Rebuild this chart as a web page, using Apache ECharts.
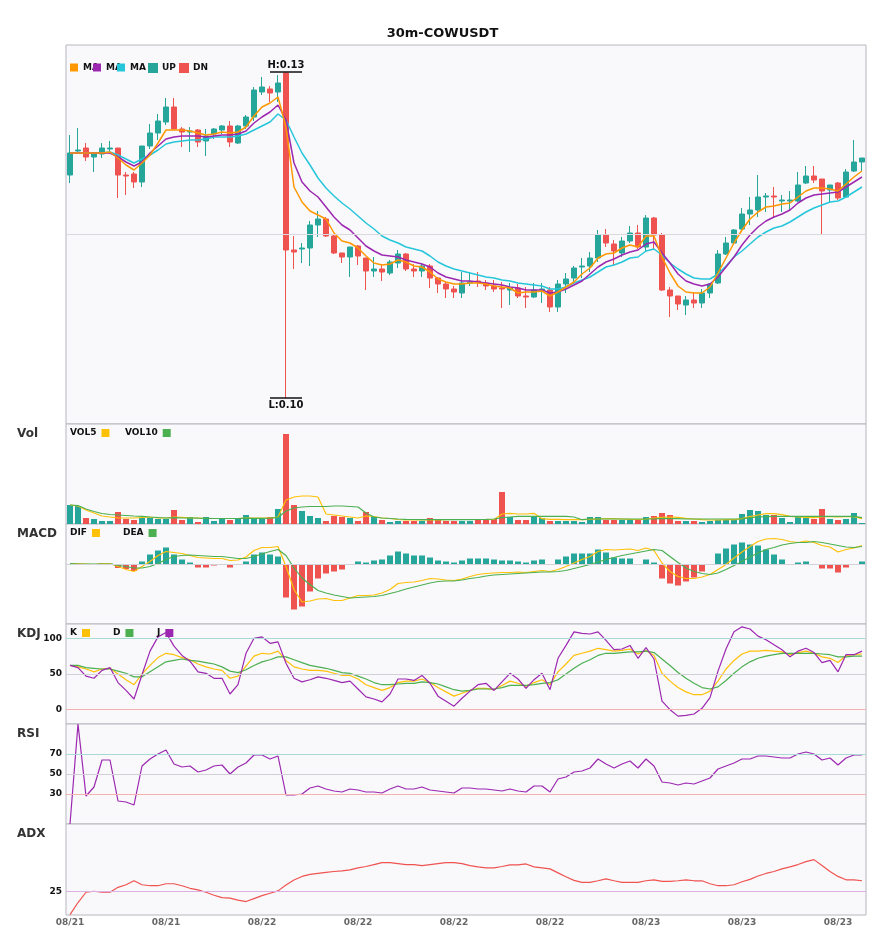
<!DOCTYPE html>
<html>
<head>
<meta charset="utf-8">
<script src="https://cdn.jsdelivr.net/npm/echarts@6/dist/echarts.min.js"></script>
<style>
  html, body { margin: 0; padding: 0; background: #fff; }
  #main { width: 885px; height: 950px; }
</style>
</head>
<body>
<div id="main"></div>
<script>
// 30m candles, [open, close, low, high]
const ohlc = [
  [0.1197,0.1219,0.1189,0.1237],[0.1221,0.1222,0.1219,0.1244],[0.1224,0.1215,0.1211,0.1229],[0.1215,0.1219,0.1200,0.1220],[0.1218,0.1224,0.1214,0.1229],
  [0.1223,0.1224,0.1219,0.1231],[0.1224,0.1197,0.1174,0.1224],[0.1197,0.1196,0.1177,0.1200],[0.1198,0.1190,0.1184,0.1200],[0.1190,0.1226,0.1185,0.1226],
  [0.1226,0.1239,0.1223,0.1248],[0.1239,0.1251,0.1232,0.1258],[0.1250,0.1265,0.1247,0.1274],[0.1265,0.1243,0.1243,0.1274],[0.1243,0.1240,0.1225,0.1245],
  [0.1240,0.1241,0.1220,0.1245],[0.1242,0.1230,0.1225,0.1243],[0.1231,0.1236,0.1216,0.1243],[0.1238,0.1243,0.1233,0.1244],[0.1242,0.1246,0.1238,0.1247],
  [0.1246,0.1230,0.1225,0.1251],[0.1229,0.1246,0.1228,0.1247],[0.1246,0.1255,0.1243,0.1257],[0.1255,0.1282,0.1251,0.1285],[0.1280,0.1285,0.1277,0.1295],
  [0.1283,0.1279,0.1270,0.1286],[0.1280,0.1289,0.1270,0.1297],[0.1299,0.1122,0.0974,0.1300],[0.1122,0.1120,0.1103,0.1136],[0.1123,0.1124,0.1109,0.1129],
  [0.1124,0.1147,0.1106,0.1151],[0.1147,0.1153,0.1135,0.1161],[0.1153,0.1136,0.1135,0.1155],[0.1136,0.1119,0.1118,0.1137],[0.1119,0.1115,0.1109,0.1119],
  [0.1115,0.1125,0.1095,0.1125],[0.1126,0.1116,0.1107,0.1127],[0.1114,0.1101,0.1082,0.1114],[0.1101,0.1103,0.1095,0.1115],[0.1103,0.1100,0.1091,0.1108],
  [0.1099,0.1110,0.1097,0.1112],[0.1109,0.1118,0.1104,0.1122],[0.1118,0.1103,0.1101,0.1119],[0.1103,0.1101,0.1095,0.1108],[0.1101,0.1106,0.1095,0.1109],
  [0.1106,0.1094,0.1084,0.1108],[0.1094,0.1088,0.1079,0.1095],[0.1088,0.1083,0.1074,0.1090],[0.1083,0.1080,0.1074,0.1086],[0.1079,0.1089,0.1074,0.1100],
  [0.1089,0.1090,0.1086,0.1100],[0.1091,0.1090,0.1085,0.1100],[0.1089,0.1086,0.1082,0.1092],[0.1086,0.1083,0.1080,0.1092],[0.1084,0.1083,0.1064,0.1090],
  [0.1082,0.1084,0.1067,0.1089],[0.1084,0.1076,0.1074,0.1088],[0.1076,0.1075,0.1064,0.1085],[0.1075,0.1082,0.1074,0.1089],[0.1082,0.1083,0.1069,0.1089],
  [0.1082,0.1065,0.1060,0.1085],[0.1065,0.1088,0.1060,0.1092],[0.1088,0.1093,0.1079,0.1099],[0.1094,0.1104,0.1088,0.1106],[0.1105,0.1106,0.1094,0.1114],
  [0.1106,0.1114,0.1100,0.1120],[0.1114,0.1137,0.1110,0.1142],[0.1137,0.1129,0.1125,0.1143],[0.1128,0.1121,0.1107,0.1132],[0.1119,0.1131,0.1115,0.1135],
  [0.1131,0.1139,0.1129,0.1146],[0.1139,0.1125,0.1123,0.1147],[0.1125,0.1154,0.1121,0.1157],[0.1154,0.1137,0.1123,0.1155],[0.1137,0.1082,0.1081,0.1139],
  [0.1082,0.1076,0.1055,0.1085],[0.1076,0.1068,0.1062,0.1076],[0.1067,0.1072,0.1057,0.1076],[0.1072,0.1069,0.1064,0.1080],[0.1069,0.1079,0.1064,0.1083],
  [0.1079,0.1088,0.1074,0.1089],[0.1089,0.1118,0.1088,0.1122],[0.1118,0.1129,0.1117,0.1135],[0.1129,0.1142,0.1128,0.1143],[0.1143,0.1158,0.1142,0.1164],
  [0.1158,0.1162,0.1147,0.1175],[0.1162,0.1175,0.1155,0.1197],[0.1175,0.1176,0.1160,0.1179],[0.1176,0.1175,0.1155,0.1185],[0.1171,0.1172,0.1160,0.1177],
  [0.1171,0.1172,0.1162,0.1181],[0.1171,0.1187,0.1170,0.1200],[0.1189,0.1196,0.1188,0.1206],[0.1196,0.1192,0.1189,0.1206],[0.1193,0.1181,0.1138,0.1193],
  [0.1182,0.1187,0.1169,0.1187],[0.1189,0.1174,0.1172,0.1190],[0.1175,0.1200,0.1174,0.1203],[0.1201,0.1210,0.1200,0.1232],[0.1210,0.1214,0.1200,0.1214]
]

const ma5 = [
  0.1219,0.1219,0.1219,0.1219,0.1219,0.1220,0.1214,0.1207,0.1202,0.1209,
  0.1217,0.1229,0.1242,0.1242,0.1242,0.1241,0.1239,0.1237,0.1238,0.1240,
  0.1239,0.1240,0.1245,0.1256,0.1265,0.1269,0.1275,0.1245,0.1185,0.1170,
  0.1161,0.1157,0.1153,0.1139,0.1131,0.1129,0.1124,0.1116,0.1109,0.1107,
  0.1108,0.1112,0.1110,0.1106,0.1105,0.1100,0.1093,0.1090,0.1088,0.1088,
  0.1089,0.1089,0.1088,0.1086,0.1085,0.1084,0.1079,0.1080,0.1080,0.1081,
  0.1076,0.1080,0.1085,0.1090,0.1098,0.1104,0.1114,0.1118,0.1119,0.1124,
  0.1127,0.1125,0.1136,0.1136,0.1115,0.1099,0.1086,0.1080,0.1079,0.1079,
  0.1085,0.1099,0.1114,0.1129,0.1142,0.1153,0.1160,0.1165,0.1166,0.1168,
  0.1169,0.1175,0.1181,0.1184,0.1184,0.1183,0.1181,0.1188,0.1195,0.1201
]
const ma10 = [
  0.1219,0.1219,0.1219,0.1219,0.1219,0.1219,0.1215,0.1210,0.1206,0.1210,
  0.1219,0.1226,0.1233,0.1235,0.1236,0.1236,0.1236,0.1235,0.1236,0.1237,
  0.1237,0.1238,0.1241,0.1249,0.1255,0.1260,0.1267,0.1252,0.1209,0.1190,
  0.1181,0.1175,0.1165,0.1155,0.1147,0.1142,0.1134,0.1126,0.1121,0.1117,
  0.1116,0.1115,0.1112,0.1110,0.1108,0.1105,0.1099,0.1095,0.1093,0.1091,
  0.1091,0.1090,0.1089,0.1088,0.1087,0.1085,0.1084,0.1082,0.1082,0.1082,
  0.1079,0.1080,0.1083,0.1087,0.1091,0.1098,0.1105,0.1110,0.1113,0.1117,
  0.1120,0.1122,0.1128,0.1130,0.1119,0.1109,0.1098,0.1091,0.1088,0.1086,
  0.1088,0.1095,0.1105,0.1115,0.1127,0.1137,0.1145,0.1151,0.1155,0.1158,
  0.1162,0.1169,0.1174,0.1177,0.1178,0.1179,0.1180,0.1185,0.1190,0.1195
]
const ma20 = [
  0.1219,0.1219,0.1219,0.1219,0.1219,0.1220,0.1217,0.1213,0.1209,0.1213,
  0.1217,0.1222,0.1228,0.1230,0.1231,0.1232,0.1232,0.1233,0.1235,0.1235,
  0.1235,0.1236,0.1238,0.1242,0.1246,0.1250,0.1258,0.1252,0.1235,0.1219,
  0.1207,0.1194,0.1184,0.1176,0.1169,0.1163,0.1156,0.1149,0.1143,0.1136,
  0.1132,0.1129,0.1125,0.1123,0.1121,0.1116,0.1110,0.1106,0.1103,0.1101,
  0.1099,0.1097,0.1095,0.1094,0.1092,0.1091,0.1089,0.1088,0.1087,0.1086,
  0.1083,0.1083,0.1085,0.1089,0.1092,0.1095,0.1100,0.1105,0.1107,0.1110,
  0.1114,0.1115,0.1121,0.1123,0.1117,0.1109,0.1103,0.1098,0.1094,0.1093,
  0.1093,0.1098,0.1106,0.1115,0.1121,0.1128,0.1135,0.1140,0.1144,0.1146,
  0.1150,0.1155,0.1160,0.1164,0.1167,0.1170,0.1171,0.1175,0.1180,0.1185
]

const vol = [
  190,180,60,50,30,30,120,50,40,60, 60,50,50,140,40,70,20,70,30,50,
  40,50,90,50,50,70,150,900,190,130, 80,60,30,80,70,60,30,120,70,40,
  20,30,30,30,30,60,40,30,30,30, 30,50,40,50,320,70,40,40,70,60,
  30,30,30,30,20,70,70,40,40,40, 40,40,70,80,110,90,30,30,30,20,
  30,40,40,40,100,140,130,90,90,60, 20,70,60,50,150,50,40,50,110,10
]
const vol5 = [
  190,180,140,110,80,70,60,60,60,65, 70,60,60,70,67,60,60,55,55,55,
  55,55,58,58,58,60,70,240,270,280, 280,270,100,90,80,70,60,80,75,60,
  55,45,40,40,40,40,42,43,45,45, 45,45,45,45,100,107,100,100,107,53,
  47,47,43,43,43,47,50,53,53,50, 47,45,50,60,67,70,67,57,50,43,
  40,40,43,43,53,73,90,103,103,93, 77,70,67,63,73,73,70,73,73,53
]
const vol10 = [
  190,185,150,125,105,95,90,85,80,77, 70,65,60,63,60,60,58,57,55,55,
  55,55,58,57,57,58,65,130,160,170, 175,175,175,180,180,175,170,110,70,60,
  55,50,47,45,43,43,43,43,43,43, 43,45,47,50,63,70,77,77,77,77,
  77,77,77,70,43,50,50,50,50,50, 50,50,50,50,57,53,53,50,50,50,
  50,50,50,50,50,63,70,73,77,77, 77,77,77,77,77,77,77,77,77,63
]

const macdHist = [
  0,0,0,0,0.00002,0.00001,-0.00008,-0.0001,-0.00014,0.00005,
  0.00019,0.00027,0.00033,0.00019,0.00009,0.00003,-0.00007,-0.00007,-0.00003,0,
  -0.00007,-0.00002,0.00005,0.00019,0.00023,0.00019,0.00015,-0.00067,-0.00091,-0.00085,
  -0.00055,-0.00029,-0.00019,-0.00015,-0.00011,0,0.00005,0.00003,0.00007,0.00009,
  0.00017,0.00025,0.00021,0.00017,0.00017,0.00013,0.00007,0.00005,0.00003,0.00007,
  0.00011,0.00011,0.00011,0.00009,0.00007,0.00007,0.00005,0.00003,0.00007,0.00009,
  0,0.00009,0.00015,0.00021,0.00021,0.00021,0.00029,0.00023,0.00013,0.00011,
  0.00011,0,0.00009,0.00003,-0.00029,-0.00039,-0.00043,-0.00035,-0.00027,-0.00015,
  -0.00001,0.00021,0.00031,0.00039,0.00043,0.00039,0.00037,0.00029,0.00019,0.00009,
  0,0.00003,0.00005,0,-0.00009,-0.00009,-0.00017,-0.00007,0,0.00005
]
const dif = [
  0.00001,0.00001,0,-0.00001,0.00001,0.00001,-0.00005,-0.00011,-0.00015,-0.00005,
  0.00005,0.00017,0.00025,0.00023,0.00021,0.00017,0.00013,0.00012,0.00011,0.00011,
  0.00007,0.00008,0.00014,0.00027,0.00033,0.00033,0.00035,-0.00005,-0.00051,-0.00076,
  -0.00074,-0.0007,-0.00069,-0.00073,-0.00073,-0.00068,-0.00063,-0.00063,-0.00062,-0.00058,
  -0.00051,-0.00039,-0.00037,-0.00036,-0.00033,-0.00029,-0.0003,-0.00032,-0.00033,-0.0003,
  -0.00025,-0.00021,-0.00019,-0.00018,-0.00017,-0.00017,-0.00016,-0.00017,-0.00015,-0.00013,
  -0.00015,-0.00011,-0.00005,0.00002,0.00009,0.00015,0.00025,0.00029,0.00028,0.00029,
  0.0003,0.00027,0.00032,0.00027,0.00002,-0.00015,-0.00025,-0.00029,-0.00029,-0.00026,
  -0.00021,-0.00011,-0.00001,0.00012,0.00024,0.00035,0.00045,0.0005,0.00051,0.00049,
  0.00045,0.00043,0.00046,0.00043,0.00037,0.00034,0.00024,0.00029,0.00032,0.00037
]
const dea = [
  0.00001,0,0,0,0,0,-0.00003,-0.00005,-0.00008,-0.00008,
  -0.00005,0.00001,0.00009,0.00015,0.00017,0.00018,0.00017,0.00016,0.00015,0.00015,
  0.00013,0.00011,0.00011,0.00015,0.0002,0.00025,0.00029,0.00017,-0.00008,-0.00028,
  -0.00041,-0.00053,-0.00058,-0.00062,-0.00065,-0.00068,-0.00067,-0.00066,-0.00065,-0.00063,
  -0.00059,-0.00055,-0.0005,-0.00046,-0.00042,-0.00038,-0.00035,-0.00034,-0.00034,-0.00032,
  -0.00029,-0.00027,-0.00024,-0.00022,-0.00021,-0.0002,-0.00019,-0.00018,-0.00017,-0.00016,
  -0.00016,-0.00015,-0.00013,-0.00009,-0.00005,-0.00001,0.00004,0.00009,0.00013,0.00017,
  0.0002,0.00023,0.00026,0.00029,0.00027,0.00015,0.00003,-0.00008,-0.00015,-0.00019,
  -0.00021,-0.00018,-0.00011,-0.00003,0.00005,0.00014,0.00022,0.00029,0.00033,0.00038,
  0.00041,0.00043,0.00043,0.00045,0.00043,0.0004,0.00037,0.00034,0.00033,0.00035
]

const kLine = [
  62,60,57,53,57,58,50,42,35,50, 62,73,79,77,73,70,64,60,57,55,
  44,47,61,75,79,78,82,69,60,57, 55,55,54,51,48,48,43,35,31,27,
  31,38,40,40,43,38,31,25,19,23, 27,30,30,28,34,40,37,33,38,42,
  35,53,64,76,79,82,86,84,82,83, 85,78,83,76,51,40,31,25,21,21,
  26,40,57,69,78,82,82,83,82,81, 77,80,82,79,74,72,66,76,77,78
]
const dLine = [
  62,62,59,58,57,57,54,51,46,46, 53,60,67,69,71,69,68,66,64,60,
  54,52,56,62,67,70,74,74,70,66, 62,60,58,55,52,51,47,43,38,35,
  35,36,37,37,39,38,36,32,28,26, 27,29,29,29,31,34,34,34,35,37,
  38,42,50,58,65,70,76,79,79,80, 81,81,82,80,71,62,52,44,37,31,
  29,32,41,51,60,67,72,75,77,79, 79,79,79,79,78,77,74,74,75,75
]
const jLine = [
  62,59,47,44,55,59,38,27,15,49, 82,102,108,89,76,68,53,51,44,44,
  22,35,79,100,102,93,95,65,44,39, 42,46,44,41,38,40,29,18,15,11,
  22,43,43,41,48,37,19,12,5,16, 26,35,37,27,39,51,43,30,42,51,
  28,72,90,109,107,106,109,97,84,85, 90,72,87,71,12,0,-9,-8,-6,2,
  17,54,85,109,116,113,103,98,91,84, 74,82,86,80,66,69,53,77,77,82
]

const rsi = [
  0,100,28,37,64,64,23,22,19,58, 65,70,74,60,57,58,52,54,58,59,
  50,57,61,69,69,65,68,29,29,30, 36,38,35,33,32,35,34,32,32,31,
  35,38,35,35,37,34,33,32,31,36, 36,35,35,34,33,35,33,32,38,38,
  32,45,47,52,53,56,65,60,56,60, 63,56,65,58,42,41,39,41,40,43,
  46,55,58,61,65,65,68,68,67,66, 66,70,72,70,64,66,59,66,69,69
]
const adx = [
  13.2,19.3,24.5,25,24.5,24.5,27,28.3,30.3,28.3, 27.8,27.8,28.8,28.8,27.8,26.5,25.7,24.5,23,21.8,
  21.5,20.5,19.8,21.3,22.8,24,25.2,28.2,30.7,32.5, 33.5,34,34.5,35,35.3,35.8,36.8,37.5,38.5,39.5,
  39.5,39,38.5,38.5,38,38.5,39,39.5,39.5,39, 38,37.3,36.8,36.8,37.5,38.3,38.3,38.8,37.3,36.8,
  36.3,34.3,32.3,30.5,29.5,29.5,30.3,31.3,30.3,29.5, 29.5,29.5,30.3,30.8,30,30,30.3,30.8,30.3,30.3,
  28.8,27.8,27.8,28.3,29.8,31,32.7,34,35,36.3, 37.3,38.5,40,41,38,35,32.5,30.8,30.8,30.3
]

// 30m time axis, starting 08/21 14:00
const times = []
const t0 = Date.UTC(2025, 7, 21, 14, 0)
const pad = n => String(n).padStart(2, '0')
for (let i = 0; i < ohlc.length; i++) {
  const d = new Date(t0 + i * 30 * 60000)
  times.push(pad(d.getUTCMonth() + 1) + '/' + pad(d.getUTCDate()) + ' ' + pad(d.getUTCHours()) + ':' + pad(d.getUTCMinutes()))
}

const UP = '#26a69a'
const DN = '#ef5350'
const FONT = 'DejaVu Sans'
const isUp = i => ohlc[i][1] >= ohlc[i][0]

const highs = ohlc.map(r => r[3])
const lows = ohlc.map(r => r[2])
const hi = Math.max(...highs)
const lo = Math.min(...lows)
const hiIdx = highs.indexOf(hi)
const loIdx = lows.indexOf(lo)

const gridBoxes = [[45, 379], [424, 100], [524, 100], [624, 100], [724, 100], [824, 91]]
const yRanges = [[0.0948, 0.1327], [0, 1000], [-0.0012, 0.0008], [-20, 120], [0, 100], [13, 59]]

const txt = { fontFamily: FONT, fontWeight: 'bold', color: '#111', fontSize: 9 }

const line = (name, data, color, gi, width) => ({
  name, type: 'line', data, xAxisIndex: gi, yAxisIndex: gi,
  symbol: 'none', silent: true,
  lineStyle: { color, width: width || 1.2 },
  itemStyle: { color }
})

// horizontal reference lines, optionally with the value on the left
const refLines = (items, showLabel) => ({
  silent: true, symbol: ['none', 'none'], precision: 6,
  label: { show: showLabel !== false, position: 'start', distance: 4, ...txt },
  data: items.map(([v, c]) => ({ yAxis: v, lineStyle: { color: c, width: 1, type: 'solid' } }))
})

const legendAt = (name, left, top, opts) => ({
  data: [name], left, top, padding: 0, icon: 'rect',
  itemWidth: 8, itemHeight: 8, itemGap: 0, selectedMode: false,
  textStyle: { ...txt },
  ...opts
})

const mainLegend = (name, left, w) => legendAt(name, left, 63, {
  textStyle: w ? { ...txt, width: w, overflow: 'truncate', ellipsis: '' } : { ...txt }
})
const subLegend = (name, left, top, w) => legendAt(name, left, top, {
  align: 'right', textStyle: { ...txt, width: w }
})

const chart = echarts.init(document.getElementById('main'))
chart.setOption({
  animation: false,
  backgroundColor: '#fff',
  title: [
    { text: '30m-COWUSDT', left: 'center', top: 22, textStyle: { fontFamily: FONT, fontWeight: 'bold', fontSize: 13, color: '#111' } },
    ...['Vol', 'MACD', 'KDJ', 'RSI', 'ADX'].map((t, i) => ({
      text: t, left: 12, top: 423 + i * 100,
      textStyle: { fontFamily: FONT, fontWeight: 'bold', fontSize: 12, color: '#333' }
    }))
  ],
  legend: [
    mainLegend('MA5', 70, 17),
    mainLegend('MA10', 93, 17),
    mainLegend('MA20', 117, 17),
    mainLegend('UP', 148),
    mainLegend('DN', 179),
    subLegend('VOL5', 70, 428.5, 26),
    subLegend('VOL10', 125, 428.5, 33),
    subLegend('DIF', 70, 528.5, 22),
    subLegend('DEA', 123, 528.5, 25),
    subLegend('K', 70, 628.5, 12),
    subLegend('D', 113, 628.5, 13),
    subLegend('J', 157, 628.5, 13)
  ],
  grid: gridBoxes.map(([top, height]) => ({
    left: 66, right: 19, top, height, show: true,
    backgroundColor: '#f9f9fc', borderColor: '#b6b6be', borderWidth: 1
  })),
  xAxis: gridBoxes.map((g, i) => ({
    type: 'category', gridIndex: i, data: times, boundaryGap: true,
    axisLine: { show: false }, axisTick: { show: false }, splitLine: { show: false },
    axisLabel: {
      show: i === gridBoxes.length - 1, interval: 11, margin: 3,
      formatter: v => v.slice(0, 5),
      fontFamily: FONT, fontWeight: 'bold', fontSize: 9, color: '#666'
    }
  })),
  yAxis: yRanges.map(([min, max], i) => ({
    type: 'value', gridIndex: i, min, max, scale: true,
    axisLine: { show: false }, axisTick: { show: false },
    axisLabel: { show: false }, splitLine: { show: false }
  })),
  series: [
    {
      name: 'UP', type: 'candlestick', xAxisIndex: 0, yAxisIndex: 0, barWidth: 6,
      data: ohlc.map((r, i) => isUp(i) ? r : ['-', '-', '-', '-']),
      itemStyle: { color: UP, color0: UP, borderColor: UP, borderColor0: UP, borderWidth: 1 }
    },
    {
      name: 'DN', type: 'candlestick', xAxisIndex: 0, yAxisIndex: 0, barWidth: 6,
      data: ohlc.map((r, i) => isUp(i) ? ['-', '-', '-', '-'] : r),
      itemStyle: { color: DN, color0: DN, borderColor: DN, borderColor0: DN, borderWidth: 1 }
    },
    {
      ...line('MA20', ma20, '#26c6da', 0, 1.5),
      markLine: {
        silent: true, symbol: ['none', 'none'], precision: 6,
        data: [
          { yAxis: (yRanges[0][0] + yRanges[0][1]) / 2, lineStyle: { color: '#dadade', width: 1, type: 'solid' }, label: { show: false } },
          [
            { coord: [times[hiIdx - 2], hi], lineStyle: { color: '#111', width: 1.5, type: 'solid' },
              label: { show: true, position: 'insideMiddleTop', distance: 2, formatter: 'H:' + hi.toFixed(2), ...txt, fontSize: 10 } },
            { coord: [times[hiIdx + 2], hi] }
          ],
          [
            { coord: [times[loIdx - 2], lo], lineStyle: { color: '#111', width: 1.5, type: 'solid' },
              label: { show: true, position: 'insideMiddleBottom', distance: 2, formatter: 'L:' + lo.toFixed(2), ...txt, fontSize: 10 } },
            { coord: [times[loIdx + 2], lo] }
          ]
        ]
      }
    },
    line('MA10', ma10, '#9c27b0', 0, 1.5),
    line('MA5', ma5, '#ff9800', 0, 1.5),

    {
      name: 'Vol', type: 'bar', xAxisIndex: 1, yAxisIndex: 1, data: vol, barWidth: 6,
      itemStyle: { color: p => isUp(p.dataIndex) ? UP : DN }
    },
    line('VOL5', vol5, '#ffc107', 1),
    line('VOL10', vol10, '#4caf50', 1),

    {
      name: 'MACD', type: 'bar', xAxisIndex: 2, yAxisIndex: 2, data: macdHist, barWidth: 6,
      itemStyle: { color: p => p.value >= 0 ? UP : DN },
      markLine: refLines([[0, '#d2d2d8']], false)
    },
    line('DIF', dif, '#ffc107', 2),
    line('DEA', dea, '#4caf50', 2),

    { ...line('K', kLine, '#ffc107', 3), markLine: refLines([[100, '#a8dbd6'], [50, '#d0d0d6'], [0, '#f6b2b2']]) },
    line('D', dLine, '#4caf50', 3),
    line('J', jLine, '#9c27b0', 3),

    { ...line('RSI', rsi, '#9c27b0', 4), markLine: refLines([[70, '#a8dbd6'], [50, '#d0d0d6'], [30, '#f6b2b2']]) },

    { ...line('ADX', adx, '#ef5350', 5), markLine: refLines([[25, '#ddb0e4']]) }
  ]
})
</script>
</body>
</html>
